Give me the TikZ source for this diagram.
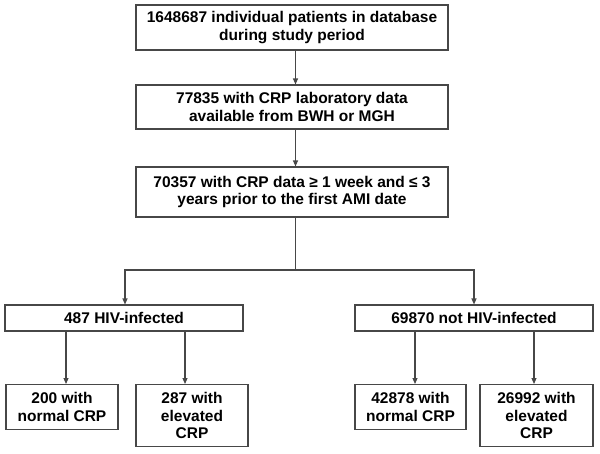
\documentclass[tikz,border=0pt]{standalone}
\usepackage{fontspec}
\setmainfont{Liberation Sans}
\usetikzlibrary{arrows.meta}

\tikzset{every picture/.style={line width=1.1pt}}
\tikzset{
  box/.style={draw=black!72, fill=white, inner sep=0pt, align=center,
    font=\bfseries\fontsize{15.5}{17.5}\selectfont},
  flow/.style={draw=black!72, -{Triangle[length=6pt,width=5pt]}},
  link/.style={draw=black!72},
}

\begin{document}
\begin{tikzpicture}[x=1pt,y=1pt,yscale=-1,xscale=1]
\useasboundingbox (0,0) rectangle (600,453);

% main column
\node[box, minimum width=312pt, minimum height=45pt] (total) at (292,27.5)
  {1648687 individual patients in database\\during study period};
\node[box, minimum width=312pt, minimum height=44pt] (crplab) at (292,107)
  {77835 with CRP laboratory data\\available from BWH or MGH};
\node[box, minimum width=312pt, minimum height=50pt] (crpwin) at (292,192)
  {70357 with CRP data ≥ 1 week and ≤ 3\\years prior to the first AMI date};

% second level
\node[box, minimum width=238pt, minimum height=26pt] (hiv) at (124,318) {487 HIV-infected};
\node[box, minimum width=238pt, minimum height=26pt] (nohiv) at (474,318) {69870 not HIV-infected};

% leaves
\node[box, minimum width=112pt, minimum height=45pt, anchor=north] (hivnorm) at (62,384) {200 with\\normal CRP};
\node[box, minimum width=112pt, minimum height=62pt, anchor=north] (hivelev) at (192,384) {287 with\\elevated\\CRP};
\node[box, minimum width=111pt, minimum height=45pt, anchor=north] (nohivnorm) at (410.5,384) {42878 with\\normal CRP};
\node[box, minimum width=113pt, minimum height=62pt, anchor=north] (nohivelev) at (536.5,384) {26992 with\\elevated\\CRP};

% helper points
\coordinate (spine) at (295.5,0);
\coordinate (split) at (295.5,270);
\coordinate (hivx) at (125,0);
\coordinate (nohivx) at (474,0);

% connectors
\draw[flow] (total.south -| spine) -- (crplab.north -| spine);
\draw[flow] (crplab.south -| spine) -- (crpwin.north -| spine);
\draw[link] (crpwin.south -| spine) -- (split);
\draw[flow] (split) -| (hiv.north -| hivx);
\draw[flow] (split) -| (nohiv.north -| nohivx);

\draw[flow] (hiv.south -| hivnorm) ++(4,0) -- ([xshift=4pt]hivnorm.north);
\draw[flow] (hiv.south -| hivelev) ++(-7,0) -- ([xshift=-7pt]hivelev.north);
\draw[flow] (nohiv.south -| nohivnorm) ++(4.5,0) -- ([xshift=4.5pt]nohivnorm.north);
\draw[flow] (nohiv.south -| nohivelev) ++(-2.5,0) -- ([xshift=-2.5pt]nohivelev.north);

\end{tikzpicture}
\end{document}
